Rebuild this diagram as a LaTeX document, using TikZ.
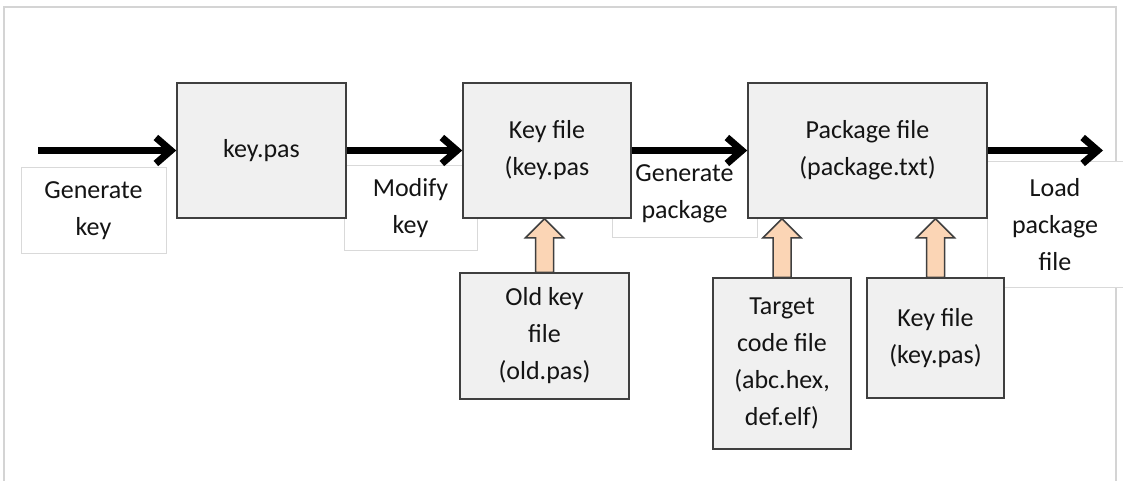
\documentclass[tikz,border=0pt]{standalone}
\usepackage{fontspec}
\setmainfont{Carlito}
\usetikzlibrary{arrows.meta}
\usetikzlibrary{calc}
\definecolor{boxgray}{HTML}{F0F0F0}
\definecolor{edgegray}{HTML}{3F3F3F}
\definecolor{lightedge}{HTML}{D9D9D9}
\definecolor{framegray}{HTML}{D4D4D4}
\definecolor{peach}{HTML}{FBD5B5}
\definecolor{inkgray}{HTML}{141414}
\tikzset{filebox/.style = {draw=edgegray, fill=boxgray, line width=1.5pt, align=center,
                           inner sep=0, text=inkgray, font=\fontsize{26}{37}\selectfont}}
\tikzset{tagbox/.style = {draw=lightedge, fill=white, line width=1pt, align=center,
                          inner sep=0, text=inkgray, font=\fontsize{26}{37}\selectfont}}
\tikzset{flow/.style = {line width=7pt, -{Straight Barb[length=15pt, width=26pt]}}}
\tikzset{blockarrow/.style = {draw=edgegray, fill=peach, line width=1.5pt, line join=miter}}
\newcommand{\upblock}[2]{%
  \draw [blockarrow] ($(#1.north)+(-9,0)$) -- ($(#1.north |- #2.south)+(-9,19)$)
    -- ($(#1.north |- #2.south)+(-19,19)$) -- (#1.north |- #2.south)
    -- ($(#1.north |- #2.south)+(19,19)$) -- ($(#1.north |- #2.south)+(9,19)$)
    -- ($(#1.north)+(9,0)$) -- cycle;}

\begin{document}
\begin{tikzpicture}[x=1pt, y=-1pt]
    \useasboundingbox (0, 0) rectangle (1123, 481);
    \draw [framegray, line width=2pt] (4, 481) -- (4, 7) -- (1116, 7) -- (1116, 481);
    \node [tagbox, minimum width=145, minimum height=85] (genkey) at (93.5, 210.5) {Generate\\key};
    \node [tagbox, minimum width=133, minimum height=84] (modkey) at (410.5, 208) {Modify\\key};
    \node [tagbox, minimum width=145, minimum height=86] (genpkg) at (684.5, 194) {Generate\\package};
    \node [tagbox, minimum width=136, minimum height=125] (loadpkg) at (1055, 224.5) {Load\\package\\file};
    \node [filebox, minimum width=169, minimum height=135] (keypas) at (261.5, 150.5) {key.pas};
    \node [filebox, minimum width=168, minimum height=135] (keyfile) at (547, 150.5) {Key file\\(key.pas};
    \node [filebox, minimum width=239, minimum height=135] (pkgfile) at (867.5, 150.5) {Package file\\(package.txt)};
    \node [filebox, minimum width=169, minimum height=126] (oldkey) at (544.5, 336) {Old key\\file\\(old.pas)};
    \node [filebox, minimum width=138, minimum height=171] (target) at (782, 363.5) {Target\\code file\\(abc.hex,\\def.elf)};
    \node [filebox, minimum width=137, minimum height=120] (keyfile2) at (935.5, 338) {Key file\\(key.pas)};
    \coordinate (start) at (38, 150.5);
    \coordinate (finish) at (1103, 150.5);
    \upblock{oldkey}{keyfile}
    \upblock{target}{pkgfile}
    \upblock{keyfile2}{pkgfile}
    \draw [flow] (start) -- (keypas);
    \draw [flow] (keypas) -- (keyfile);
    \draw [flow] (keyfile) -- (pkgfile);
    \draw [flow] (pkgfile) -- (finish);
  \end{tikzpicture}
\end{document}
